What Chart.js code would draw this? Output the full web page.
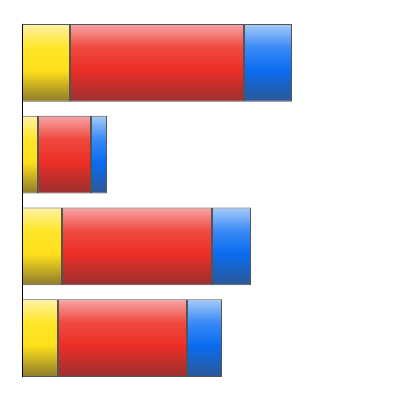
<!DOCTYPE html>
<html><head><meta charset="utf-8">
<script src="https://cdn.jsdelivr.net/npm/chart.js@4/dist/chart.umd.min.js"></script>
<style>html,body{margin:0;padding:0;background:#fff}canvas{display:block}</style>
</head><body>
<canvas id="c" width="400" height="400"></canvas>
<script>
const categories = ["A", "B", "C", "D"];
const yellowValues = [48, 16, 40, 36];
const redValues = [174, 53, 150, 129];
const blueValues = [48, 16, 39, 35];
const xMax = 360;

const palettes = {
  yellow: ["#fff2a8", "#ffe62a", "#ffdf1a", "#8c7a2c"],
  red: ["#f6a8a8", "#f04a40", "#ec2e26", "#993030"],
  blue: ["#a8ccf8", "#3a8af6", "#0a6cf0", "#2c5896"]
};
const BAR_PCT = 0.85;

function grad(name) {
  return function (ctx) {
    const chart = ctx.chart;
    const ys = chart.scales && chart.scales.y;
    const p = palettes[name];
    if (!ys || ctx.dataIndex === undefined || !chart.chartArea) return p[2];
    const c = ys.getPixelForValue(ctx.dataIndex);
    const h = (ys.height / categories.length) * BAR_PCT / 2;
    const g = chart.ctx.createLinearGradient(0, c - h, 0, c + h);
    g.addColorStop(0, p[0]);
    g.addColorStop(0.3, p[1]);
    g.addColorStop(0.6, p[2]);
    g.addColorStop(1, p[3]);
    return g;
  };
}

const axisLine = {
  id: "axisLine",
  afterDatasetsDraw(chart) {
    const m0 = chart.getDatasetMeta(0).data;
    if (!m0.length) return;
    const first = m0[0], last = m0[m0.length - 1];
    const ctx = chart.ctx;
    ctx.save();
    ctx.strokeStyle = "#000";
    ctx.lineWidth = 1;
    ctx.beginPath();
    const x = Math.round(chart.chartArea.left) + 0.5;
    ctx.moveTo(x, first.y - first.height / 2);
    ctx.lineTo(x, last.y + last.height / 2);
    ctx.stroke();
    ctx.restore();
  }
};

new Chart(document.getElementById("c"), {
  type: "bar",
  data: {
    labels: categories,
    datasets: [
      { label: "Yellow", data: yellowValues, backgroundColor: grad("yellow") },
      { label: "Red", data: redValues, backgroundColor: grad("red") },
      { label: "Blue", data: blueValues, backgroundColor: grad("blue") }
    ]
  },
  options: {
    indexAxis: "y",
    responsive: false,
    animation: false,
    layout: { padding: { left: 22, right: 18, top: 17, bottom: 16 } },
    datasets: {
      bar: {
        categoryPercentage: 1,
        barPercentage: BAR_PCT,
        borderColor: "#555555",
        borderWidth: 1,
        borderSkipped: false
      }
    },
    plugins: { legend: { display: false }, tooltip: { enabled: false } },
    scales: {
      x: { stacked: true, display: false, min: 0, max: xMax },
      y: { stacked: true, display: false }
    }
  },
  plugins: [axisLine]
});
</script>
</body></html>
